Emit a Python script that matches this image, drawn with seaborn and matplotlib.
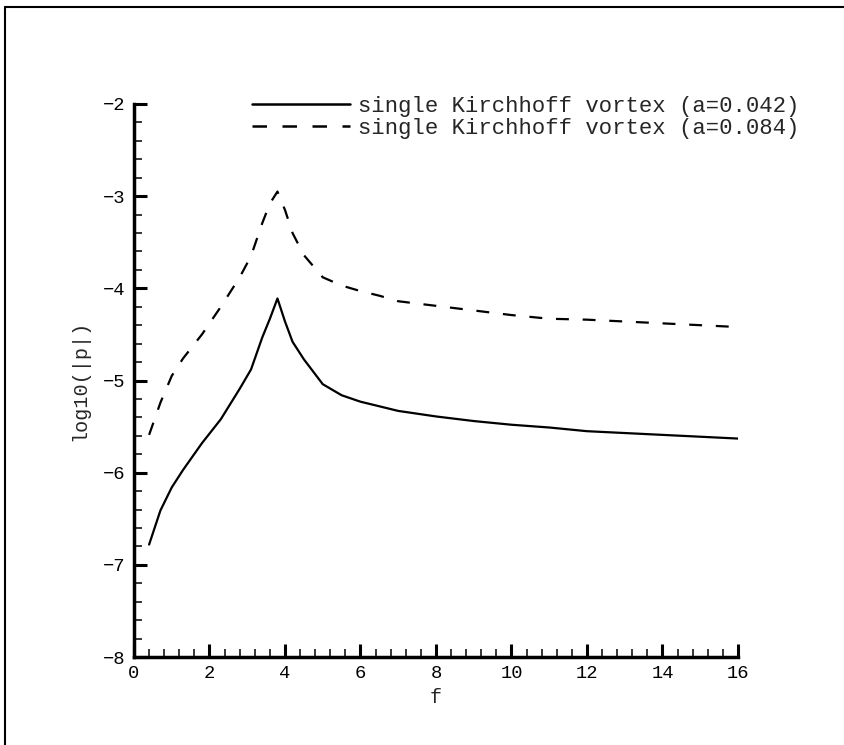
import matplotlib
matplotlib.use("Agg")
import matplotlib.pyplot as plt
from matplotlib.lines import Line2D
from matplotlib.ticker import MultipleLocator
import numpy as np
import pandas as pd
import seaborn as sns

# Frequency grid and log10 of the pressure amplitude for the two vortex sizes
freq = [0.4, 0.7, 1.0, 1.3, 1.8, 2.3, 2.8, 3.1, 3.4, 3.6, 3.8, 4.0, 4.2, 4.5,
        5.0, 5.5, 6.0, 6.5, 7.0, 8.0, 9.0, 10.0, 11.0, 12.0, 13.0, 14.0, 15.0, 16.0]
logp_a042 = [-6.78, -6.41, -6.16, -5.97, -5.68, -5.42, -5.09, -4.88, -4.53, -4.33,
             -4.11, -4.36, -4.58, -4.77, -5.04, -5.16, -5.23, -5.28, -5.33, -5.39,
             -5.44, -5.48, -5.51, -5.55, -5.57, -5.59, -5.61, -5.63]
logp_a084 = [-5.59, -5.24, -4.95, -4.76, -4.50, -4.20, -3.88, -3.65, -3.29, -3.08,
             -2.95, -3.15, -3.40, -3.64, -3.88, -3.97, -4.03, -4.08, -4.14, -4.19,
             -4.24, -4.29, -4.33, -4.34, -4.36, -4.38, -4.40, -4.42]
series_labels = ["single Kirchhoff vortex (a=0.042)",
                 "single Kirchhoff vortex (a=0.084)"]

df = pd.DataFrame({
    "f": freq + freq,
    "logp": logp_a042 + logp_a084,
    "series": [series_labels[0]] * len(freq) + [series_labels[1]] * len(freq),
})

sns.set_style("white")
plt.rcParams["font.family"] = ["Liberation Mono", "DejaVu Sans"]

fig = plt.figure(figsize=(8.45, 7.45), dpi=100)
ax = fig.add_axes([134 / 845, 88 / 745, 604 / 845, 553 / 745])

dash = (5.8, 6.2)
sns.lineplot(data=df, x="f", y="logp", hue="series", style="series",
             palette=["black", "black"], dashes=["", dash],
             linewidth=1.6, ax=ax, legend=False)

ax.set_xlim(0, 16)
ax.set_ylim(-8, -2)
ax.xaxis.set_major_locator(MultipleLocator(2))
ax.xaxis.set_minor_locator(MultipleLocator(0.4))
ax.yaxis.set_major_locator(MultipleLocator(1))
ax.yaxis.set_minor_locator(MultipleLocator(0.2))

for side in ("top", "right"):
    ax.spines[side].set_visible(False)
for side in ("left", "bottom"):
    ax.spines[side].set_linewidth(2.5)
    ax.spines[side].set_color("black")

ax.tick_params(which="major", direction="in", length=9.5, width=2.2,
               labelsize=13.5, pad=6, colors="black")
ax.tick_params(which="minor", direction="in", length=5.5, width=1.1, colors="black")
ax.tick_params(axis="both", which="both", left=True, bottom=True)

ax.set_xlabel("f", fontsize=14.5, labelpad=4)
ax.set_ylabel("log10(|p|)", fontsize=14.5, labelpad=10)

handles = [Line2D([], [], color="black", lw=1.8),
           Line2D([], [], color="black", lw=1.8, dashes=dash)]
fig.legend(handles, series_labels, loc="upper left",
           bbox_to_anchor=(252 / 845, 1 - 96 / 745), frameon=False,
           fontsize=16, handlelength=4.4, handletextpad=0.36,
           labelspacing=0.05, borderpad=0, borderaxespad=0)

# Outer frame along the top and left edges
fig.add_artist(Line2D([5 / 845, 5 / 845], [0, 1 - 7 / 745], transform=fig.transFigure,
                      color="black", lw=1.5))
fig.add_artist(Line2D([5 / 845, 1], [1 - 7 / 745, 1 - 7 / 745], transform=fig.transFigure,
                      color="black", lw=1.5))

fig.savefig("out.png", dpi=100)
